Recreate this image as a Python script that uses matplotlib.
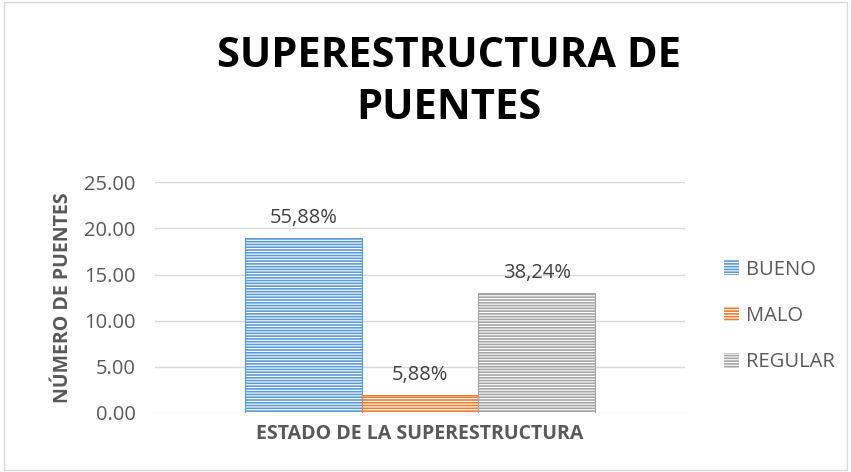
import matplotlib.pyplot as plt

categories = ['BUENO', 'MALO', 'REGULAR']
values = [19, 2, 13]
labels = ['55,88%', '5,88%', '38,24%']
colors = ['#5B9BD5', '#ED7D31', '#A5A5A5']
yticks = [0, 5, 10, 15, 20, 25]

plt.rcParams['font.family'] = ['Open Sans', 'DejaVu Sans']
plt.rcParams['hatch.linewidth'] = 0.8
txt = '#595959'

fig = plt.figure(figsize=(8.51, 4.72), dpi=100)
ax = fig.add_axes([0.182, 0.125, 0.623, 0.489])

w = 0.22
pos = [-w, 0, w]
for p, v, c, n, l in zip(pos, values, colors, categories, labels):
    ax.bar(p, v, width=w, color=c, edgecolor='white', hatch='------', linewidth=0, label=n)
    ax.bar(p, v, width=w, color='none', edgecolor=c, linewidth=0.8)
    ax.annotate(l, (p, v), xytext=(0, 7), textcoords='offset points',
                ha='center', va='bottom', fontsize=14.5, color='#404040')

ax.set_xlim(-0.5, 0.5)
ax.set_ylim(0, 25)
ax.set_yticks(yticks)
ax.set_yticklabels([f'{t:.2f}' for t in yticks], fontsize=14.5, color=txt)
ax.set_xticks([])
ax.grid(axis='y', color='#D9D9D9', linewidth=1)
ax.set_axisbelow(True)
ax.tick_params(axis='y', length=0, pad=14)
for s in ax.spines.values():
    s.set_visible(False)

ax.set_xlabel('ESTADO DE LA SUPERESTRUCTURA', fontsize=14, fontweight='bold', color=txt, labelpad=8)
ax.set_ylabel('NÚMERO DE PUENTES', fontsize=14, fontweight='bold', color=txt, labelpad=8)

fig.text(0.528, 0.825, 'SUPERESTRUCTURA DE\nPUENTES',
         ha='center', va='center', fontsize=30, fontweight='bold', color='black', linespacing=1.35)

ax.legend(loc='center left', bbox_to_anchor=(1.04, 0.42), frameon=False, fontsize=14.5,
          labelcolor=txt, handlelength=0.75, handleheight=0.75, handletextpad=0.3, labelspacing=1.3)

fig.patches.append(plt.Rectangle((0.005, 0.005), 0.99, 0.99, transform=fig.transFigure,
                                 fill=False, edgecolor='#D9D9D9', linewidth=1))
fig.savefig('out.png', dpi=100)
